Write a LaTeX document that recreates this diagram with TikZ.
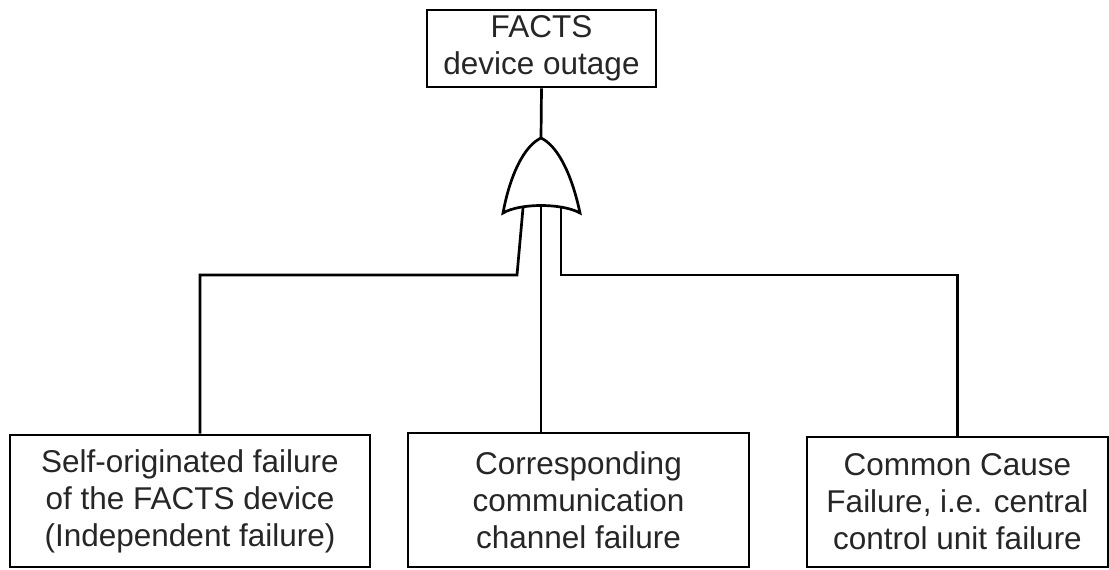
\documentclass[tikz,border=0pt]{standalone}
\usepackage{fontspec}
\setmainfont{Liberation Sans}
\begin{document}
\begin{tikzpicture}[x=1pt,y=-1pt,
  line width=2.7pt, line join=miter,
  event/.style={draw, fill=white, inner sep=0pt, align=center,
    font=\fontsize{31.5}{37}\selectfont, text=black!85}]
\useasboundingbox (0,0) rectangle (1109,570);

% top event
\node[event, minimum width=229pt, minimum height=77pt] (top) at (541.5,48.5)
  {FACTS\\device outage};

% basic events
\node[event, minimum width=360pt, minimum height=132pt] (self) at (190,501)
  {Self-originated failure\\of the FACTS device\\(Independent failure)};
\node[event, minimum width=341pt, minimum height=134pt] (comm) at (578.5,500)
  {Corresponding\\communication\\channel failure};
\node[event, minimum width=301pt, minimum height=130pt] (ccf) at (957.5,502)
  {Common Cause\\Failure, i.e. central\\control unit failure};

% OR gate
\coordinate (tip) at (541,138);
\coordinate (gl) at (503,213);
\coordinate (gr) at (580,213);
\draw (gl) .. controls (520,203) and (562,203) .. (gr)
  .. controls (572,175) and (558,146) .. (tip)
  .. controls (524,146) and (510,175) .. (gl) -- cycle;

% gate inputs and bends of the wiring
\coordinate (inl) at (523,208);
\coordinate (inm) at (541,206);
\coordinate (inr) at (561,207);
\coordinate (bl) at (517,275);
\coordinate (br) at (561,275);
\coordinate (dl) at (200,275);

% connectors
\draw (top.south) -- (tip);
\draw (inl) -- (bl) -- (dl) -- (dl |- self.north);
\draw (inm) -- (comm.north -| inm);
\draw (inr) -- (br) -| (ccf.north);
\end{tikzpicture}
\end{document}
